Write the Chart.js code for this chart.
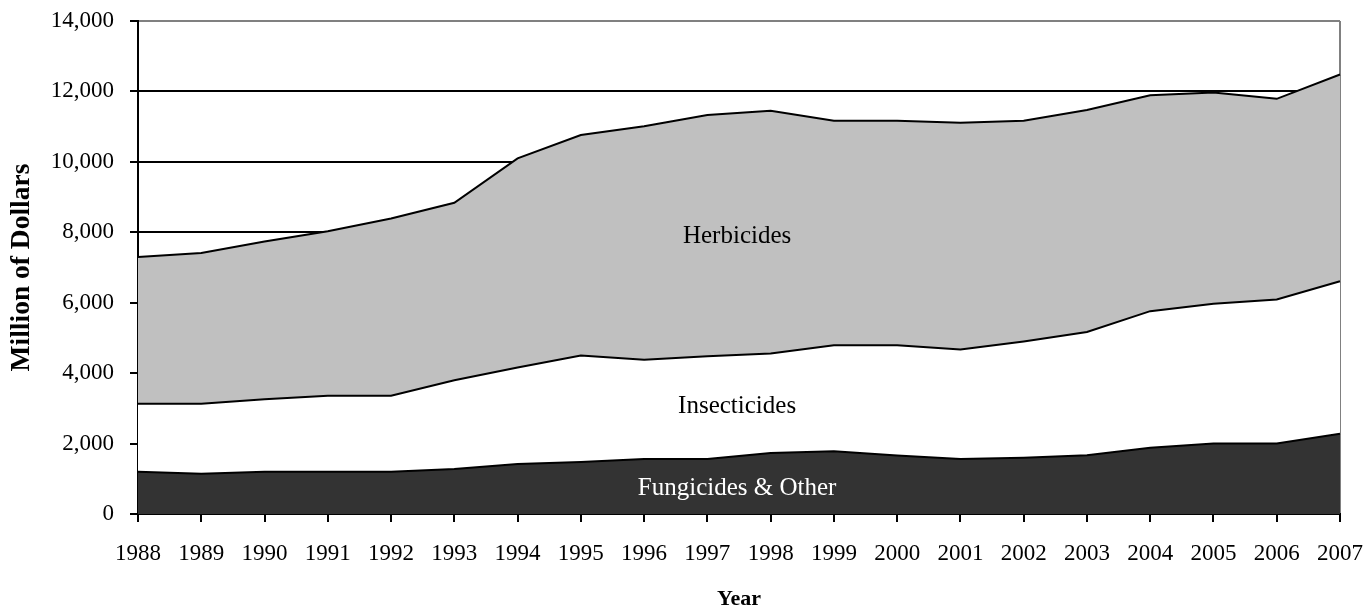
<!DOCTYPE html>
<html>
<head>
<meta charset="utf-8">
<script src="https://cdn.jsdelivr.net/npm/chart.js@4.4.0/dist/chart.umd.min.js"></script>
<style>
  body { margin: 0; background: #fff; }
  #wrap { width: 1366px; height: 608px; }
</style>
</head>
<body>
<div id="wrap"><canvas id="myChart"></canvas></div>
<script>
// values in million dollars
const years = ['1988','1989','1990','1991','1992','1993','1994','1995','1996','1997',
               '1998','1999','2000','2001','2002','2003','2004','2005','2006','2007'];
const fungicides   = [1200,1140,1200,1200,1200,1280,1420,1480,1560,1560,1730,1780,1660,1560,1600,1670,1880,2000,2000,2280];
const insecticides = [1930,1990,2060,2160,2160,2520,2740,3020,2820,2920,2830,3010,3130,3110,3300,3500,3880,3970,4090,4330];
const herbicides   = [4170,4280,4480,4670,5030,5040,5940,6260,6630,6850,6890,6380,6380,6440,6270,6300,6130,6000,5700,5870];
const seriesNames  = ['Fungicides & Other','Insecticides','Herbicides'];
const yMax = 14000;
const yStep = 2000;

const serif = '"Liberation Serif", "Times New Roman", serif';

// text written inside each band
const areaLabels = {
    id: 'areaLabels',
    afterDatasetsDraw(chart) {
        const ctx = chart.ctx;
        const x = chart.scales.x;
        const y = chart.scales.y;
        const spots = [
            { text: seriesNames[2], at: 9.47, v: 7870, color: '#000' },
            { text: seriesNames[1], at: 9.47, v: 3050, color: '#000' },
            { text: seriesNames[0], at: 9.47, v: 740, color: '#fff' }
        ];
        ctx.save();
        ctx.font = '25px ' + serif;
        ctx.textAlign = 'center';
        ctx.textBaseline = 'middle';
        spots.forEach(s => {
            ctx.fillStyle = s.color;
            ctx.fillText(s.text, x.getPixelForValue(s.at), y.getPixelForValue(s.v));
        });
        ctx.restore();
    }
};

const ctx = document.getElementById('myChart');
new Chart(ctx, {
    type: 'line',
    data: {
        labels: years,
        datasets: [{
            label: seriesNames[0],
            data: fungicides,
            backgroundColor: '#333333',
            fill: 'origin'
        }, {
            label: seriesNames[1],
            data: insecticides,
            backgroundColor: '#ffffff',
            fill: '-1'
        }, {
            label: seriesNames[2],
            data: herbicides,
            backgroundColor: '#c0c0c0',
            fill: '-1'
        }]
    },
    options: {
        responsive: true,
        maintainAspectRatio: false,
        animation: false,
        layout: {
            padding: { top: 21, right: 26, left: 0, bottom: 0 }
        },
        elements: {
            line: { borderColor: '#000', borderWidth: 2, tension: 0 },
            point: { radius: 0, hoverRadius: 0 }
        },
        plugins: {
            legend: { display: false },
            tooltip: { enabled: false }
        },
        scales: {
            x: {
                offset: false,
                border: { color: '#000', width: 2 },
                grid: {
                    drawOnChartArea: true,
                    color: c => c.index === years.length - 1 ? '#808080' : 'rgba(0,0,0,0)',
                    tickColor: '#000',
                    tickLength: 8,
                    lineWidth: 2
                },
                ticks: {
                    color: '#000',
                    maxRotation: 0,
                    autoSkip: false,
                    padding: 18,
                    font: { family: serif, size: 23 }
                },
                title: {
                    display: true,
                    text: 'Year',
                    color: '#000',
                    padding: { top: 0, bottom: 0 },
                    font: { family: serif, size: 22, weight: 'bold', lineHeight: 0.8 }
                },
                afterFit: s => {
                    s.height = 94;
                    s.paddingLeft = 0;
                    s.paddingRight = 0;
                }
            },
            y: {
                stacked: true,
                min: 0,
                max: yMax,
                border: { color: '#000', width: 2 },
                grid: {
                    color: c => c.tick.value === yMax ? '#808080' : '#000',
                    tickColor: '#000',
                    tickLength: 8,
                    lineWidth: 2
                },
                ticks: {
                    stepSize: yStep,
                    color: '#000',
                    padding: 16,
                    font: { family: serif, size: 23 },
                    callback: v => v.toLocaleString('en-US')
                },
                title: {
                    display: true,
                    text: 'Million of Dollars',
                    color: '#000',
                    padding: { top: 5, bottom: 0 },
                    font: { family: serif, size: 27.5, weight: 'bold', lineHeight: 1.2 }
                },
                afterFit: s => {
                    s.width = 138;
                    s.paddingTop = 0;
                    s.paddingBottom = 0;
                }
            }
        }
    },
    plugins: [areaLabels]
});
</script>
</body>
</html>
